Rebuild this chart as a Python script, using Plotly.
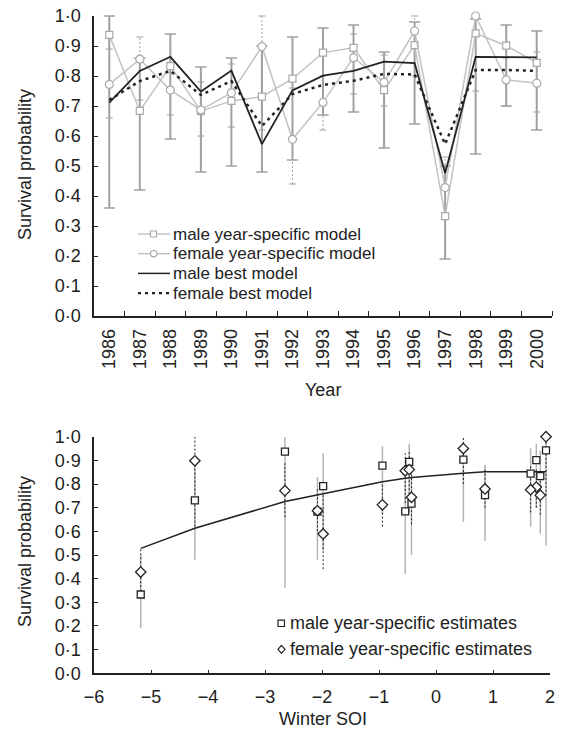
import plotly.graph_objects as go

# ---- data ----
years = list(range(1986, 2001))

male_est = [0.937, 0.684, 0.833, 0.683, 0.717, 0.731, 0.791, 0.878, 0.894, 0.753, 0.903, 0.333, 0.942, 0.901, 0.844]
male_lo = [0.36, 0.42, 0.59, 0.48, 0.50, 0.48, 0.52, 0.67, 0.68, 0.56, 0.64, 0.19, 0.54, 0.70, 0.62]
male_hi = [1.00, 0.86, 0.94, 0.83, 0.86, 0.90, 0.93, 0.96, 0.97, 0.88, 0.98, 0.50, 0.99, 0.97, 0.95]

female_est = [0.772, 0.856, 0.753, 0.687, 0.744, 0.898, 0.589, 0.712, 0.861, 0.779, 0.950, 0.428, 1.000, 0.787, 0.776]
female_lo = [0.66, 0.72, 0.67, 0.60, 0.63, 0.62, 0.44, 0.62, 0.74, 0.70, 0.80, 0.33, 0.75, 0.70, 0.68]
female_hi = [0.89, 0.93, 0.83, 0.78, 0.84, 1.00, 0.76, 0.80, 0.94, 0.87, 1.00, 0.53, 1.00, 0.86, 0.88]

male_best = [0.711, 0.817, 0.864, 0.748, 0.818, 0.573, 0.752, 0.801, 0.817, 0.848, 0.843, 0.476, 0.864, 0.864, 0.862]
female_best = [0.720, 0.783, 0.817, 0.737, 0.783, 0.633, 0.740, 0.770, 0.784, 0.807, 0.805, 0.573, 0.820, 0.820, 0.817]

# winter SOI for each year and the fitted survival along it
soi = [-2.65, -0.54, 1.83, -2.08, -0.43, -4.23, -1.98, -0.94, -0.47, 0.86, 0.48, -5.18, 1.93, 1.76, 1.66]
soi_fit = [0.726, 0.824, 0.852, 0.753, 0.828, 0.613, 0.760, 0.810, 0.827, 0.852, 0.845, 0.528, 0.852, 0.852, 0.852]

prob_ticks = [i / 10 for i in range(11)]
prob_labels = ["0·%d" % i for i in range(10)] + ["1·0"]
soi_ticks = list(range(-6, 3))
soi_labels = [("−%d" % -v) if v < 0 else str(v) for v in soi_ticks]

# the page body keeps its default 8px margin, so the figure is shrunk and
# every page-pixel position below is shifted by that offset
PAGE_W, PAGE_H = 566, 731
OFF = 8
W, H = PAGE_W - OFF, PAGE_H - OFF
FONT = "Liberation Sans, Arial, Helvetica, sans-serif"
INK = "#222222"
GREY_LINE = "#c2c2c2"
GREY_MARK = "#a9a9a9"
GREY_BAR = "#a0a0a0"


def px(x):
    return (x - OFF) / W


def py(y):
    return 1 - (y - OFF) / H


def bar_xy(xs, lo, hi):
    bx, by = [], []
    for x, a, b in zip(xs, lo, hi):
        bx += [x, x, None]
        by += [a, b, None]
    return bx, by


fig = go.Figure()

# ---------- top panel: survival by year ----------
fx, fy = bar_xy(years, female_lo, female_hi)
fig.add_trace(go.Scatter(x=fx, y=fy, mode="lines", xaxis="x", yaxis="y",
                         line=dict(color=GREY_BAR, width=1, dash="2px,2px"),
                         cliponaxis=False, hoverinfo="skip"))
fig.add_trace(go.Scatter(x=years + years, y=female_lo + female_hi, mode="markers",
                         xaxis="x", yaxis="y",
                         marker=dict(symbol="line-ew", size=5, line=dict(color=GREY_BAR, width=1)),
                         cliponaxis=False, hoverinfo="skip"))

mx, my = bar_xy(years, male_lo, male_hi)
fig.add_trace(go.Scatter(x=mx, y=my, mode="lines", xaxis="x", yaxis="y",
                         line=dict(color=GREY_BAR, width=2),
                         cliponaxis=False, hoverinfo="skip"))
fig.add_trace(go.Scatter(x=years + years, y=male_lo + male_hi, mode="markers",
                         xaxis="x", yaxis="y",
                         marker=dict(symbol="line-ew", size=8, line=dict(color=GREY_BAR, width=1.5)),
                         cliponaxis=False, hoverinfo="skip"))

fig.add_trace(go.Scatter(x=years, y=male_est, mode="lines+markers", xaxis="x", yaxis="y",
                         name="male year-specific model",
                         line=dict(color=GREY_LINE, width=1.5),
                         marker=dict(symbol="square", size=7, color="white",
                                     line=dict(color=GREY_MARK, width=1.2)),
                         cliponaxis=False))
fig.add_trace(go.Scatter(x=years, y=female_est, mode="lines+markers", xaxis="x", yaxis="y",
                         name="female year-specific model",
                         line=dict(color=GREY_LINE, width=1.5),
                         marker=dict(symbol="circle", size=8, color="white",
                                     line=dict(color=GREY_MARK, width=1.2)),
                         cliponaxis=False))
fig.add_trace(go.Scatter(x=years, y=male_best, mode="lines", xaxis="x", yaxis="y",
                         name="male best model",
                         line=dict(color=INK, width=1.8), cliponaxis=False))
fig.add_trace(go.Scatter(x=years, y=female_best, mode="lines", xaxis="x", yaxis="y",
                         name="female best model",
                         line=dict(color=INK, width=2.5, dash="3px,4px"), cliponaxis=False))

# ---------- bottom panel: survival vs winter SOI ----------
mx2, my2 = bar_xy(soi, male_lo, male_hi)
fig.add_trace(go.Scatter(x=mx2, y=my2, mode="lines", xaxis="x2", yaxis="y2",
                         line=dict(color="#b4b4b4", width=1.5),
                         cliponaxis=False, hoverinfo="skip"))
fx2, fy2 = bar_xy(soi, female_lo, female_hi)
fig.add_trace(go.Scatter(x=fx2, y=fy2, mode="lines", xaxis="x2", yaxis="y2",
                         line=dict(color=INK, width=1, dash="2px,2px"),
                         cliponaxis=False, hoverinfo="skip"))

order = sorted(range(len(soi)), key=lambda i: soi[i])
fig.add_trace(go.Scatter(x=[soi[i] for i in order], y=[soi_fit[i] for i in order],
                         mode="lines", xaxis="x2", yaxis="y2",
                         line=dict(color=INK, width=1.5), cliponaxis=False))

fig.add_trace(go.Scatter(x=soi, y=male_est, mode="markers", xaxis="x2", yaxis="y2",
                         name="male year-specific estimates",
                         marker=dict(symbol="square", size=7, color="white",
                                     line=dict(color=INK, width=1.3)),
                         cliponaxis=False))
fig.add_trace(go.Scatter(x=soi, y=female_est, mode="markers", xaxis="x2", yaxis="y2",
                         name="female year-specific estimates",
                         marker=dict(symbol="diamond", size=8, color="white",
                                     line=dict(color=INK, width=1.3)),
                         cliponaxis=False))

# ---------- axes ----------
axis_style = dict(showgrid=False, zeroline=False, showline=True, linecolor=INK, linewidth=1.5,
                  ticks="inside", ticklen=4, tickwidth=1.2, tickcolor=INK, automargin=False,
                  ticklabeloverflow="allow",
                  tickfont=dict(family=FONT, size=18, color=INK))

fig.update_layout(
    width=W, height=H,
    margin=dict(l=0, r=0, t=0, b=0),
    paper_bgcolor="white", plot_bgcolor="white",
    showlegend=False,
    font=dict(family=FONT, size=18, color=INK),
    xaxis=dict(axis_style, domain=[px(94), px(552)], anchor="y", range=[1985.5, 2000.5],
               tickmode="array", tickvals=years, ticktext=[str(y) for y in years],
               ticks="", tickangle=-90, ticklabelstandoff=4,
               minor=dict(tickmode="array", tickvals=[y + 0.5 for y in years],
                          ticks="inside", ticklen=5, tickwidth=1.2, tickcolor=INK)),
    yaxis=dict(axis_style, domain=[py(316), py(16)], anchor="x", range=[0, 1],
               tickmode="array", tickvals=prob_ticks, ticktext=prob_labels,
               ticklabelstandoff=8),
    xaxis2=dict(axis_style, domain=[px(94), px(550)], anchor="y2", range=[-6, 2],
                tickmode="array", tickvals=soi_ticks, ticktext=soi_labels,
                ticklabelstandoff=6),
    yaxis2=dict(axis_style, domain=[py(673.3), py(436.7)], anchor="x2", range=[0, 1],
                tickmode="array", tickvals=prob_ticks, ticktext=prob_labels,
                ticklabelstandoff=8),
)

# ---------- axis titles ----------
titles = [
    ("Survival probability", 25, 165, -90),
    ("Year", 323, 390, 0),
    ("Survival probability", 25, 552, -90),
    ("Winter SOI", 323, 719, 0),
]
for text, x, y, ang in titles:
    fig.add_annotation(text=text, x=px(x), y=py(y), xref="paper", yref="paper",
                       xanchor="center", yanchor="middle", textangle=ang,
                       showarrow=False, font=dict(family=FONT, size=18, color=INK))

# ---------- hand-made legends (tight spacing as in the original) ----------
legend_top = [
    ("male year-specific model", 234.0, GREY_LINE, None, "square"),
    ("female year-specific model", 253.7, GREY_LINE, None, "circle"),
    ("male best model", 273.4, INK, None, None),
    ("female best model", 293.1, INK, "dot", None),
]
for text, y, col, dash, sym in legend_top:
    line = dict(color=col, width=1.5)
    if dash:
        line = dict(color=col, width=2.2, dash="3px,4px")
    fig.add_shape(type="line", xref="paper", yref="paper",
                  x0=px(138), x1=px(170), y0=py(y), y1=py(y), line=line)
    if sym == "square":
        fig.add_shape(type="rect", xref="paper", yref="paper",
                      x0=px(150.5), x1=px(156.5), y0=py(y + 3), y1=py(y - 3),
                      fillcolor="white", line=dict(color=GREY_MARK, width=1.2))
    elif sym == "circle":
        fig.add_shape(type="circle", xref="paper", yref="paper",
                      x0=px(150.5), x1=px(157), y0=py(y + 3.2), y1=py(y - 3.2),
                      fillcolor="white", line=dict(color=GREY_MARK, width=1.2))
    fig.add_annotation(text=text, x=px(172), y=py(y), xref="paper", yref="paper",
                       xanchor="left", yanchor="middle", showarrow=False, borderpad=0,
                       font=dict(family=FONT, size=17, color=INK))

legend_bottom = [
    ("male year-specific estimates", 623.3, "square"),
    ("female year-specific estimates", 649.3, "diamond"),
]
for text, y, sym in legend_bottom:
    if sym == "square":
        fig.add_shape(type="rect", xref="paper", yref="paper",
                      x0=px(278), x1=px(284.5), y0=py(y + 3.2), y1=py(y - 3.2),
                      fillcolor="white", line=dict(color=INK, width=1.2))
    else:
        cx, cy = 281.5, y
        path = "M %f,%f L %f,%f L %f,%f L %f,%f Z" % (
            px(cx), py(cy - 4), px(cx + 3.5), py(cy), px(cx), py(cy + 4), px(cx - 3.5), py(cy))
        fig.add_shape(type="path", xref="paper", yref="paper", path=path,
                      fillcolor="white", line=dict(color=INK, width=1.2))
    fig.add_annotation(text=text, x=px(288), y=py(y), xref="paper", yref="paper",
                       xanchor="left", yanchor="middle", showarrow=False,
                       font=dict(family=FONT, size=18, color=INK))

fig.write_html("out.html")
